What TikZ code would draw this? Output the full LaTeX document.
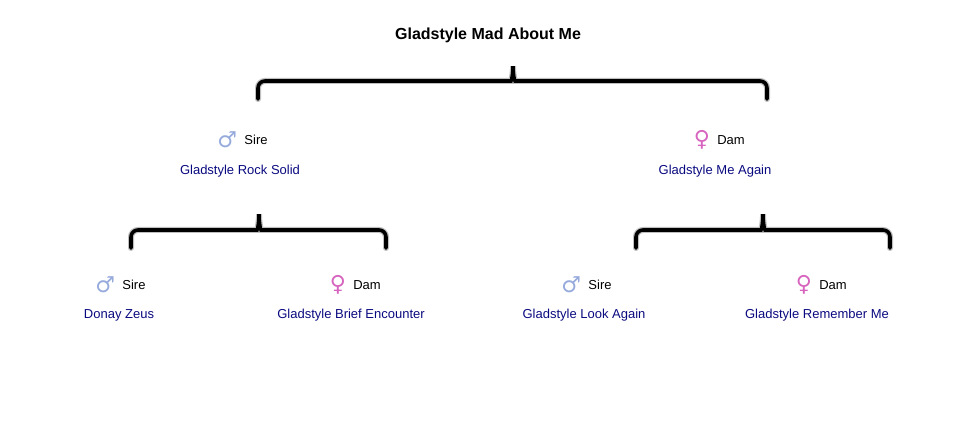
\documentclass[tikz,border=0pt]{standalone}
\usepackage{fontspec}
\setmainfont{Liberation Sans}
\newfontfamily\symfont{DejaVu Sans}
\usetikzlibrary{positioning}
\definecolor{namecol}{RGB}{10,10,128}
\definecolor{sirecol}{RGB}{150,170,220}
\definecolor{damcol}{RGB}{215,100,190}
\tikzset{
  role/.style={font=\fontsize{13}{15}\selectfont, inner sep=1pt},
  horse/.style={font=\fontsize{13}{15}\selectfont, text=namecol, inner sep=1pt},
  sireicon/.style={font=\symfont\fontsize{22}{22}\selectfont, text=sirecol, inner sep=0pt},
  damicon/.style={font=\symfont\fontsize{22}{22}\selectfont, text=damcol, inner sep=0pt},
  bracket/.style={line width=3.6pt, black, rounded corners=7pt, line cap=round},
  bracketshadow/.style={line width=6pt, black!25, rounded corners=7pt, line cap=round}
}
% brace: tip, left end, right end, height of the bar
\newcommand{\pedbrace}[4]{%
  \foreach \st in {bracketshadow,bracket}{
  \draw[\st] (#2) -- (#2 |- 0,#4) -- ([xshift=-9pt]#1 |- 0,#4)
     .. controls ([xshift=-1pt]#1 |- 0,#4) and ([yshift=-8pt]#1) .. (#1)
     .. controls ([yshift=-8pt]#1) and ([xshift=1pt]#1 |- 0,#4) .. ([xshift=9pt]#1 |- 0,#4)
     -- (#3 |- 0,#4) -- (#3);}}
\begin{document}
\begin{tikzpicture}[x=1pt,y=-1pt]
  \useasboundingbox (0,0) rectangle (980,422);
  \node[font=\bfseries\fontsize{16}{18}\selectfont] (title) at (488,35) {Gladstyle Mad About Me};
  % first generation
  \node[role] (s1) at (256,140) {Sire};
  \node[sireicon, left=6pt of s1] (s1i) {♂};
  \node[horse] (s1n) at (240,171) {Gladstyle Rock Solid};
  \node[role] (d1) at (731,140) {Dam};
  \node[damicon, left=6pt of d1] (d1i) {♀};
  \node[horse] (d1n) at (715,171) {Gladstyle Me Again};
  % second generation
  \node[role] (s2) at (134,285) {Sire};
  \node[sireicon, left=6pt of s2] (s2i) {♂};
  \node[horse] (s2n) at (119,315) {Donay Zeus};
  \node[role] (d2) at (367,285) {Dam};
  \node[damicon, left=6pt of d2] (d2i) {♀};
  \node[horse] (d2n) at (351,315) {Gladstyle Brief Encounter};
  \node[role] (s3) at (600,285) {Sire};
  \node[sireicon, left=6pt of s3] (s3i) {♂};
  \node[horse] (s3n) at (584,315) {Gladstyle Look Again};
  \node[role] (d3) at (833,285) {Dam};
  \node[damicon, left=6pt of d3] (d3i) {♀};
  \node[horse] (d3n) at (817,315) {Gladstyle Remember Me};
  % braces
  \coordinate (t0) at (513,62);
  \coordinate (l0) at (258,99);
  \coordinate (r0) at (767,99);
  \pedbrace{t0}{l0}{r0}{81}
  \coordinate (t1) at (259,210);
  \coordinate (l1) at (131,248);
  \coordinate (r1) at (386,248);
  \pedbrace{t1}{l1}{r1}{230}
  \coordinate (t2) at (763,210);
  \coordinate (l2) at (636,248);
  \coordinate (r2) at (890,248);
  \pedbrace{t2}{l2}{r2}{230}
\end{tikzpicture}
\end{document}
